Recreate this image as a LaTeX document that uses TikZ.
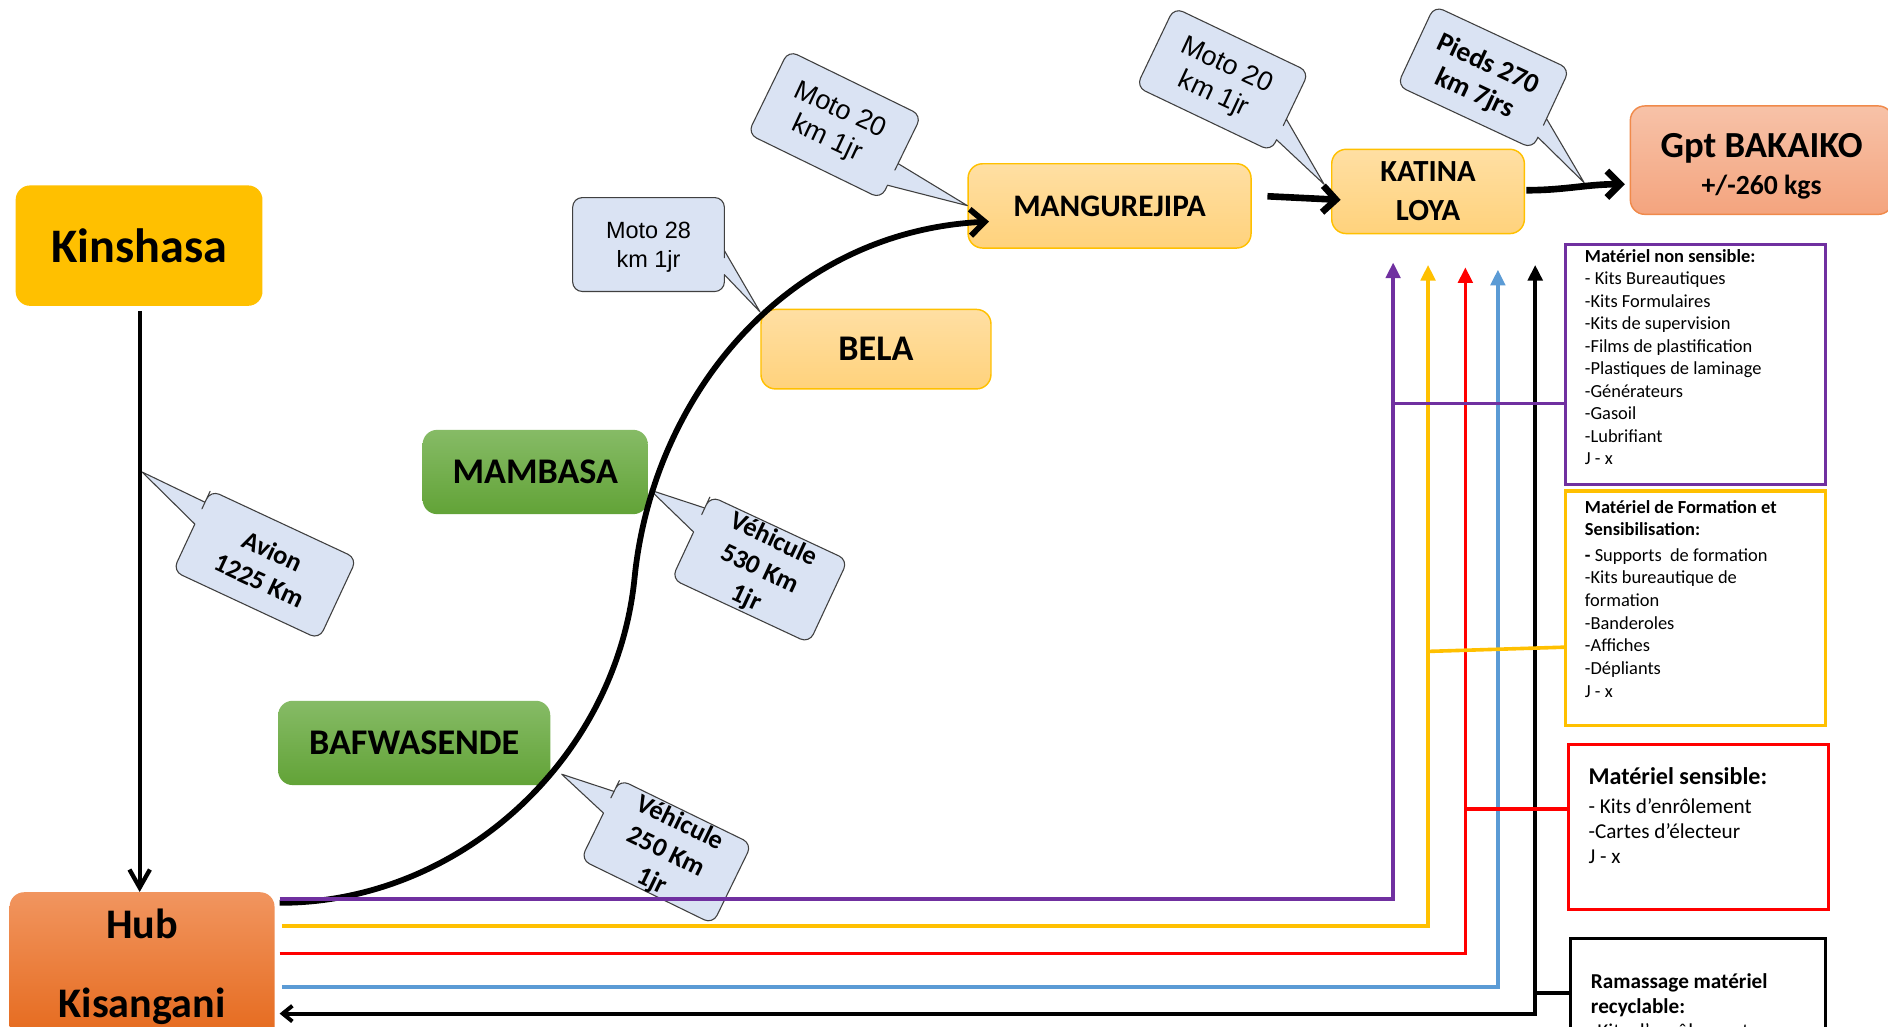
\documentclass[tikz,border=0pt]{standalone}
\usepackage{fontspec}
\setmainfont{Carlito}
\newfontfamily\arialf{Liberation Sans}
\usetikzlibrary{arrows.meta,calc}
\definecolor{cKin}{HTML}{FFC000}
\definecolor{cLt1}{HTML}{FFDFA3}
\definecolor{cLt2}{HTML}{FFD27C}
\definecolor{cGr1}{HTML}{86BB66}
\definecolor{cGr2}{HTML}{62A337}
\definecolor{cHub1}{HTML}{F1955F}
\definecolor{cHub2}{HTML}{E5691C}
\definecolor{cGpt1}{HTML}{F7C2A8}
\definecolor{cGpt2}{HTML}{F4A47E}
\definecolor{cGptB}{HTML}{F08A4B}
\definecolor{cBub}{HTML}{DAE3F3}
\definecolor{cPur}{HTML}{7030A0}
\definecolor{cYel}{HTML}{FFC000}
\definecolor{cRed}{HTML}{FF0000}
\definecolor{cBlu}{HTML}{5B9BD5}
% bubble with tail on the left edge: cx, cy, angle, halfw, halfh, v1, v2, tip
\newcommand\bubL[8]{%
\begin{scope}[shift={(#1,#2)},rotate=#3]
\path[bubble] (0,#5) [rounded corners=8pt] -- (#4,#5) -- (#4,-#5) -- (-#4,-#5) -- (-#4,#6-2) [sharp corners] -- (-#4,#6) -- (#8) -- (-#4,#7) -- (-#4,#7+2) [rounded corners=8pt] -- (-#4,#5) -- cycle;
\end{scope}}
% bubble with tail on the right edge
\newcommand\bubR[8]{%
\begin{scope}[shift={(#1,#2)},rotate=#3]
\path[bubble] (0,#5) [rounded corners=8pt] -- (-#4,#5) -- (-#4,-#5) -- (#4,-#5) -- (#4,#6-2) [sharp corners] -- (#4,#6) -- (#8) -- (#4,#7) -- (#4,#7+2) [rounded corners=8pt] -- (#4,#5) -- cycle;
\end{scope}}
\begin{document}
\begin{tikzpicture}[x=1pt,y=-1pt,
  place/.style={rounded corners=12pt, align=center, inner sep=0pt},
  lightbox/.style={place, top color=cLt1, bottom color=cLt2, draw=cKin, line width=1.2pt},
  greenbox/.style={place, top color=cGr1, bottom color=cGr2, draw=none},
  bubble/.style={fill=cBub, draw=black!75, line width=0.9pt, line join=round},
  btext/.style={align=center, inner sep=0pt},
  listbox/.style={inner sep=0pt, anchor=north west, line width=2.6pt},
  cline/.style={line width=3pt},
  uptip/.style={-{Triangle[length=13pt,width=12pt]}}
]
\useasboundingbox (0,0) rectangle (1568,852.9);
\fill[white] (0,0) rectangle (1568,852.9);

% ---------- places ----------
\node[place, fill=cKin, minimum width=205pt, minimum height=100pt,
      font=\bfseries\fontsize{40}{48}\selectfont] (kin) at (115.5,204) {Kinshasa};
\node[place, top color=cHub1, bottom color=cHub2, minimum width=220pt, minimum height=124pt,
      font=\bfseries\fontsize{35}{65}\selectfont] (hub) at (118,803) {Hub\\Kisangani};
\node[greenbox, minimum width=226pt, minimum height=70pt,
      font=\bfseries\fontsize{30}{36}\selectfont] (baf) at (344,617) {BAFWASENDE};
\node[greenbox, minimum width=187pt, minimum height=70pt,
      font=\bfseries\fontsize{30}{36}\selectfont] (mam) at (444.5,392) {MAMBASA};
\node[lightbox, minimum width=191pt, minimum height=66pt,
      font=\bfseries\fontsize{30}{36}\selectfont] (bela) at (727.5,290) {BELA};
\node[lightbox, minimum width=235pt, minimum height=70pt,
      font=\bfseries\fontsize{26}{32}\selectfont] (mang) at (921.5,171) {MANGUREJIPA};
\node[lightbox, minimum width=160pt, minimum height=70pt,
      font=\bfseries\fontsize{25.5}{32.5}\selectfont] (kat) at (1186,159) {KATINA\\LOYA};
\node[place, top color=cGpt1, bottom color=cGpt2, draw=cGptB, line width=1.2pt,
      minimum width=218pt, minimum height=90pt,
      font=\bfseries\fontsize{30.5}{30.5}\selectfont] (gpt) at (1463,133)
      {\rule{0pt}{30pt}Gpt BAKAIKO\\{\fontsize{23}{30.5}\selectfont +/-260 kgs}};

% ---------- material boxes ----------
\node[listbox, draw=cPur] (pbox) at (1299,202) {\parbox[c][199pt][t]{216pt}{\raggedright\leftskip=16pt
  \fontsize{15.3}{18.7}\selectfont\rule{0pt}{14.5pt}\textbf{Matériel non sensible:}\\
  - Kits Bureautiques\\-Kits Formulaires\\-Kits de supervision\\-Films de plastification\\
  -Plastiques de laminage\\-Générateurs\\-Gasoil\\-Lubrifiant\\J - x}};
\node[listbox, draw=cYel] (ybox) at (1299,406.5) {\parbox[c][195pt][t]{216pt}{\raggedright\leftskip=16pt
  \fontsize{15.3}{18.8}\selectfont\rule{0pt}{18.5pt}\textbf{Matériel de Formation et}\\
  \textbf{Sensibilisation:}\\[2.3pt]
  \textbf{-} Supports\ \ de formation\\-Kits bureautique de\\formation\\-Banderoles\\
  -Affiches\\-Dépliants\\J - x}};
\node[listbox, draw=cRed] (rbox) at (1301,617) {\parbox[c][137pt][t]{216pt}{\raggedright\leftskip=17pt
  \fontsize{17.6}{20.9}\selectfont\rule{0pt}{33pt}{\fontsize{20}{20.9}\selectfont\textbf{Matériel sensible:}}\\[3.1pt]
  - Kits d’enrôlement\\-Cartes d’électeur\\J - x}};
\node[listbox, draw=black] (kbox) at (1303,778) {\parbox[c][130pt][t]{212pt}{\raggedright\leftskip=17pt
  \fontsize{17.6}{20.8}\selectfont\rule{0pt}{41.5pt}\textbf{Ramassage matériel}\\
  \textbf{recyclable:}\\-Kits d’enrôlement}};

% ---------- bubbles ----------
\coordinate (tAv) at (118,392);
\coordinate (tV530) at (540,407);
\coordinate (tV250) at (466.5,643);
\coordinate (tM28) at (631.2,259);
\coordinate (tM20a) at (803.4,170.8);
\coordinate (tM20b) at (1099.7,153.1);
\coordinate (tPieds) at (1315.6,151.7);

\bubL{220}{469}{-25}{67}{37}{-26}{-6}{tAv}
\bubL{631}{473}{-25}{63}{38}{-27}{-5}{tV530}
\bubL{553.4}{707.4}{-26}{61}{37}{-26}{-6}{tV250}
\bubR{538.6}{203.1}{0}{63}{39}{5}{25}{tM28}
\bubR{693.2}{103.5}{-26}{61.5}{38.5}{6}{26}{tM20a}
\bubR{1015.4}{65.9}{-25.5}{62}{36.5}{7}{26}{tM20b}
\bubR{1232}{64.2}{-25}{62}{36.5}{9}{26}{tPieds}

\node[btext, rotate=-25, font=\bfseries\fontsize{22}{26.8}\selectfont] (nAv) at (221,470) {Avion\\1225 Km};
\node[btext, rotate=-25, font=\bfseries\fontsize{22}{26.8}\selectfont] (nV530) at (631,473) {Véhicule\\530 Km\\1jr};
\node[btext, rotate=-26, font=\bfseries\fontsize{22}{26.8}\selectfont] (nV250) at (553,708) {Véhicule\\250 Km\\1jr};
\node[btext, font=\arialf\fontsize{19.5}{24}\selectfont] (nM28) at (538.6,205) {Moto 28\\km 1jr};
\node[btext, rotate=-25, font=\arialf\fontsize{22.5}{26}\selectfont] (nM20a) at (692,104) {Moto 20\\km 1jr};
\node[btext, rotate=-25, font=\arialf\fontsize{22.5}{26}\selectfont] (nM20b) at (1013,67) {Moto 20\\km 1jr};
\node[btext, rotate=-25, font=\bfseries\fontsize{23}{26.8}\selectfont] (nPieds) at (1230,66) {Pieds 270\\km 7jrs};

% ---------- black connectors ----------
\coordinate (k0) at ($(kin.south)+(0.5,4)$);
\draw[line width=3.6pt, -{Straight Barb[length=15pt,width=17pt]}] (k0) -- (k0 |- hub.north);
\draw[line width=4.8pt, -{Straight Barb[length=12pt,width=22pt]}]
  ($(hub.north east)+(4,9)$) .. controls (382,750) and (512,630) .. (527,480)
  .. controls (542,330) and (652,192.5) .. ($(mang.west)+(18,13)$);
\draw[line width=5.5pt, -{Straight Barb[length=11pt,width=22pt]}] ($(mang.east)+(13,-8)$) -- ($(kat.west)+(8,7)$);
\draw[line width=5.5pt, -{Straight Barb[length=11pt,width=22pt]}] ($(kat.east)+(1,-1)$) to[out=0,in=180] ($(gpt.west)+(-4,20)$);

% ---------- coloured flows ----------
\coordinate (pv) at (1157,218);
\coordinate (yv) at (1186,220);
\coordinate (rv) at (1217,222);
\coordinate (bv) at (1244,224);
\coordinate (kv) at (1275,220);
\coordinate (ps) at (1157,335);
\coordinate (ys) at (1186,541);
\coordinate (rs) at (1217,672);
\coordinate (ks) at (1275,825);

\draw[cline, draw=cPur, uptip] ($(hub.north east)+(4,6)$) -| (pv);
\draw[cline, draw=cYel, uptip] ($(hub.north east)+(6,28)$) -| (yv);
\draw[cline, draw=cRed, uptip] ($(hub.north east)+(4,51)$) -| (rv);
\draw[cline, draw=cBlu, uptip] ($(hub.north east)+(6,79)$) -| (bv);
\draw[line width=3.3pt, draw=black, {Triangle[length=13pt,width=12pt]}-{Straight Barb[length=8pt,width=13pt]}] (kv) |- ($(hub.north east)+(4,101)$);

\draw[cline, draw=cPur] (pbox.west |- ps) -- (ps);
\draw[cline, draw=cYel] ($(ybox.north west)+(0,131)$) -- (ys);
\draw[cline, draw=cRed] (rbox.west |- rs) -- (rs);
\draw[line width=3.3pt, draw=black] (kbox.west |- ks) -- (ks);
\end{tikzpicture}
\end{document}
